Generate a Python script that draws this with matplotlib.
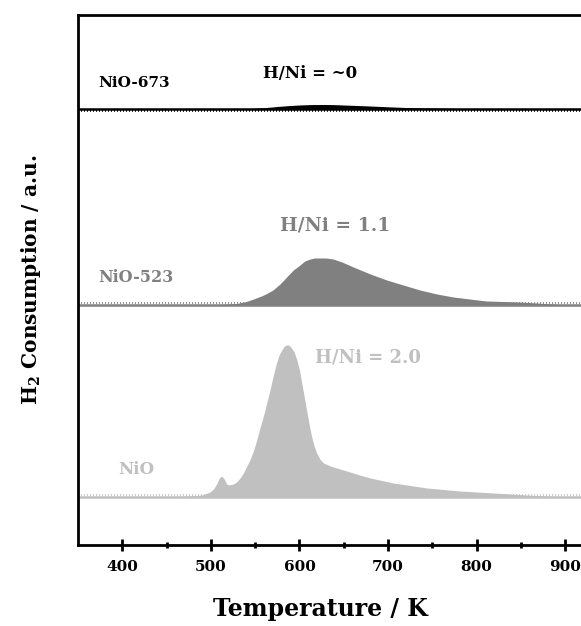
import numpy as np
import matplotlib.pyplot as plt

plt.rcParams["mathtext.fontset"] = "dejavuserif"

# H2-TPR profiles (temperature in K, signal in a.u.)
t_nio = [350, 450, 476, 490, 499, 503, 506.5, 509.5, 512.2, 515, 517.8, 520.8, 525, 529, 533, 536.6,
         540, 544, 548, 551.7, 555, 559, 563, 566.7, 570, 574, 577, 580, 583, 585.5, 588, 591, 594,
         597, 600, 602.5, 605, 608, 611, 613.8, 616.5, 619.4, 623, 627, 635, 645.7, 668, 680,
         706, 744, 781, 819, 856, 890, 920]
h_nio = [0, 0, 1, 2, 5, 8, 13, 19, 21, 18, 13, 12, 13, 15, 19, 24,
         30, 37, 46, 57, 68, 80, 94, 107, 120, 134, 142, 147, 151, 152, 152, 149, 145,
         137, 127, 114, 102, 87, 72, 60, 51, 44, 38, 34, 31, 28, 22, 19,
         14, 9, 6, 4, 2, 0.5, 0]

t_523 = [350, 500, 529, 540, 548, 557, 563, 570, 578, 585.5, 593, 600.5, 606, 612, 617, 623, 630,
         638, 648, 660.7, 680, 698.4, 717, 736, 755, 773.6, 792, 811, 830, 849, 867.7, 886, 900, 920]
h_523 = [0, 0, 1.5, 3.5, 6, 9, 11.5, 15, 21, 28, 35, 40, 44, 46, 47, 47, 47,
         46, 43, 38, 31, 25, 20, 15, 11, 8, 6, 4, 3.5, 3, 2, 1, 0, 0]

t_673 = [350, 520, 545, 560, 575, 588, 600, 612, 625, 638, 650, 665, 680, 700, 720, 745, 770, 790, 810, 920]
h_673 = [0, 0, 0.5, 1.3, 2.5, 3.4, 4, 4.4, 4.5, 4.4, 4, 3.5, 3, 2.2, 1.5, 1, 0.7, 0.3, 0, 0]

names = ["NiO", "NiO-523", "NiO-673"]
ratios = ["H/Ni = 2.0", "H/Ni = 1.1", "H/Ni = ~0"]

colors = ["#c0c0c0", "#808080", "#000000"]
offsets = [48, 240, 436]
dot_shift = [2, 2.5, -2]

fnt = "DejaVu Serif"
fig = plt.figure(figsize=(5.81, 6.26), dpi=100)
ax = fig.add_axes([78/581, 1-545/626, (583-78)/581, 530/626])

series = [(t_nio, h_nio), (t_523, h_523), (t_673, h_673)]
for (t, h), c, off, ds in zip(series, colors, offsets, dot_shift):
    t = np.array(t, float)
    h = np.array(h, float)
    ax.plot([350, 920], [off + ds, off + ds], color=c, lw=1.2, ls=(0, (0.6, 1.2)), zorder=1)
    ax.axhline(off, color=c, lw=1.8, zorder=2)
    ax.fill_between(t, off, off + h, color=c, lw=0, zorder=3)

ax.text(372.6, 462, names[2], color=colors[2], fontsize=11, fontweight="bold", family=fnt, va="center")
ax.text(611.8, 472, ratios[2], color=colors[2], fontsize=12, fontweight="bold", family=fnt, va="center", ha="center")
ax.text(372.6, 268, names[1], color=colors[1], fontsize=11.5, fontweight="bold", family=fnt, va="center")
ax.text(640, 320, ratios[1], color=colors[1], fontsize=13.5, fontweight="bold", family=fnt, va="center", ha="center")
ax.text(395, 75, names[0], color=colors[0], fontsize=12, fontweight="bold", family=fnt, va="center")
ax.text(617.5, 187, ratios[0], color=colors[0], fontsize=13, fontweight="bold", family=fnt, va="center")

ax.set_xlim(350, 920)
ax.set_ylim(0, 530)
ax.set_xticks([400, 500, 600, 700, 800, 900])
ax.set_xticks([450, 550, 650, 750, 850], minor=True)
ax.set_yticks([])
for lab in ax.get_xticklabels():
    lab.set_family(fnt)
    lab.set_fontweight("bold")
    lab.set_fontsize(11)
ax.tick_params(axis="x", which="major", direction="inout", length=9, width=2, pad=6)
ax.tick_params(axis="x", which="minor", direction="inout", length=5, width=2)
ax.spines["right"].set_visible(False)
for s in ["left", "bottom", "top"]:
    ax.spines[s].set_linewidth(2)

ax.set_xlabel("Temperature / K", family=fnt, fontweight="bold", fontsize=17)
ax.xaxis.set_label_coords(0.48, -0.098)
ax.set_ylabel("H$_\\mathbf{2}$ Consumption / a.u.", family=fnt, fontweight="bold", fontsize=14.5, labelpad=25)

fig.savefig("out.png", dpi=100)
